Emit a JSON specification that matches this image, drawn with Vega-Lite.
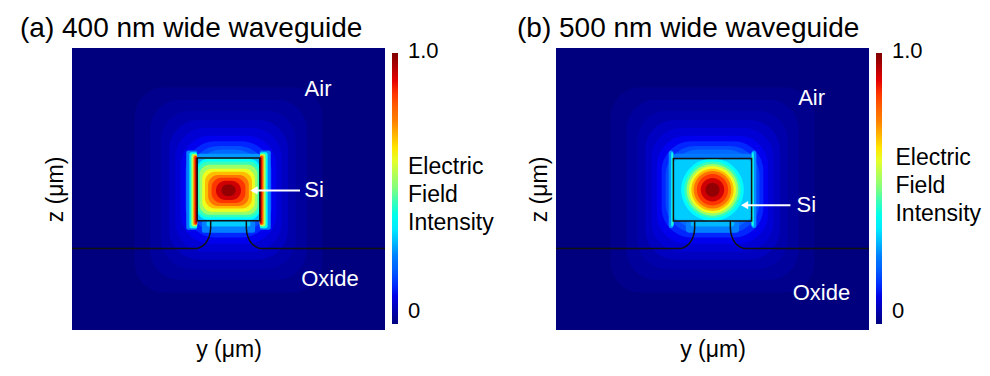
{
  "$schema": "https://vega.github.io/schema/vega-lite/v6.json",
  "padding": {"left": 20, "top": 15, "right": 5, "bottom": 5},
  "background": "white",
  "config": {
    "view": {"stroke": null},
    "font": "Liberation Sans",
    "axis": {"labels": false, "ticks": false, "domain": false, "grid": false, "titleFontSize": 23, "titleFont": "Liberation Sans", "titleFontWeight": "normal", "titleColor": "black"},
    "title": {"fontSize": 28, "font": "Liberation Sans", "fontWeight": "normal", "color": "black", "anchor": "start", "frame": "group", "baseline": "alphabetic", "offset": 5}
  },
  "datasets": {
    "a_bg": [{"y": -1, "ye": 1, "z": -0.52, "ze": 1.28, "v": 0}],
    "a_halo": [
      {"y": -0.6, "ye": 0.6, "z": -0.28, "ze": 1.03, "v": 0.015},
      {"y": -0.5, "ye": 0.5, "z": -0.2, "ze": 0.95, "v": 0.03},
      {"y": -0.43, "ye": 0.43, "z": -0.13, "ze": 0.88, "v": 0.045},
      {"y": -0.38, "ye": 0.38, "z": -0.07, "ze": 0.82, "v": 0.065},
      {"y": -0.34, "ye": 0.34, "z": -0.02, "ze": 0.77, "v": 0.085},
      {"y": -0.305, "ye": 0.305, "z": 0.03, "ze": 0.72, "v": 0.11},
      {"y": -0.275, "ye": 0.275, "z": 0.07, "ze": 0.685, "v": 0.14},
      {"y": -0.25, "ye": 0.25, "z": 0.1, "ze": 0.655, "v": 0.175},
      {"y": -0.228, "ye": 0.228, "z": 0.125, "ze": 0.632, "v": 0.215}
    ],
    "a_near": [
      {"y": -0.27, "ye": -0.2, "z": 0.12, "ze": 0.625, "v": 0.25},
      {"y": 0.2, "ye": 0.27, "z": 0.12, "ze": 0.625, "v": 0.25},
      {"y": -0.25, "ye": -0.2, "z": 0.13, "ze": 0.615, "v": 0.4},
      {"y": 0.2, "ye": 0.25, "z": 0.13, "ze": 0.615, "v": 0.4},
      {"y": -0.237, "ye": -0.2, "z": 0.14, "ze": 0.605, "v": 0.55},
      {"y": 0.2, "ye": 0.237, "z": 0.14, "ze": 0.605, "v": 0.55},
      {"y": -0.226, "ye": -0.2, "z": 0.148, "ze": 0.597, "v": 0.72},
      {"y": 0.2, "ye": 0.226, "z": 0.148, "ze": 0.597, "v": 0.72},
      {"y": -0.218, "ye": -0.2, "z": 0.153, "ze": 0.59, "v": 0.86},
      {"y": 0.2, "ye": 0.218, "z": 0.153, "ze": 0.59, "v": 0.86},
      {"y": -0.211, "ye": -0.2, "z": 0.16, "ze": 0.58, "v": 0.96},
      {"y": 0.2, "ye": 0.211, "z": 0.16, "ze": 0.58, "v": 0.96},
      {"y": -0.2, "ye": 0.2, "z": 0.578, "ze": 0.605, "v": 0.27},
      {"y": -0.17, "ye": 0.17, "z": 0.1, "ze": 0.178, "v": 0.25},
      {"y": -0.14, "ye": 0.14, "z": 0.14, "ze": 0.178, "v": 0.32},
      {"y": -0.2, "ye": 0.2, "z": 0.178, "ze": 0.578, "v": 0.3}
    ],
    "a_core": [
      {"y": -0.2, "ye": 0.2, "z": 0.185, "ze": 0.572, "v": 0.38},
      {"y": -0.195, "ye": 0.195, "z": 0.2, "ze": 0.555, "v": 0.45},
      {"y": -0.185, "ye": 0.185, "z": 0.215, "ze": 0.535, "v": 0.53},
      {"y": -0.168, "ye": 0.168, "z": 0.235, "ze": 0.51, "v": 0.61},
      {"y": -0.15, "ye": 0.15, "z": 0.255, "ze": 0.49, "v": 0.69},
      {"y": -0.13, "ye": 0.13, "z": 0.272, "ze": 0.47, "v": 0.77},
      {"y": -0.108, "ye": 0.108, "z": 0.29, "ze": 0.452, "v": 0.85},
      {"y": -0.08, "ye": 0.08, "z": 0.31, "ze": 0.432, "v": 0.92},
      {"y": -0.045, "ye": 0.045, "z": 0.335, "ze": 0.408, "v": 0.98}
    ],
    "lines": [
      {"s": "L", "o": 0, "y": -1, "z": 0},
      {"s": "L", "o": 1, "y": -0.2, "z": 0},
      {"s": "L", "o": 2, "y": -0.185, "z": 0.006},
      {"s": "L", "o": 3, "y": -0.165, "z": 0.017},
      {"s": "L", "o": 4, "y": -0.148, "z": 0.032},
      {"s": "L", "o": 5, "y": -0.135, "z": 0.05},
      {"s": "L", "o": 6, "y": -0.124, "z": 0.075},
      {"s": "L", "o": 7, "y": -0.117, "z": 0.1},
      {"s": "L", "o": 8, "y": -0.114, "z": 0.13},
      {"s": "L", "o": 9, "y": -0.114, "z": 0.178},
      {"s": "R", "o": 0, "y": 1, "z": 0},
      {"s": "R", "o": 1, "y": 0.2, "z": 0},
      {"s": "R", "o": 2, "y": 0.185, "z": 0.006},
      {"s": "R", "o": 3, "y": 0.165, "z": 0.017},
      {"s": "R", "o": 4, "y": 0.148, "z": 0.032},
      {"s": "R", "o": 5, "y": 0.135, "z": 0.05},
      {"s": "R", "o": 6, "y": 0.124, "z": 0.075},
      {"s": "R", "o": 7, "y": 0.117, "z": 0.1},
      {"s": "R", "o": 8, "y": 0.114, "z": 0.13},
      {"s": "R", "o": 9, "y": 0.114, "z": 0.178}
    ],
    "a_box": [{"y": -0.2, "ye": 0.2, "z": 0.178, "ze": 0.578}],
    "a_text": [
      {"t": "Air", "y": 0.572, "z": 1.02},
      {"t": "Si", "y": 0.547, "z": 0.371},
      {"t": "Oxide", "y": 0.648, "z": -0.192}
    ],
    "a_arrow": [{"y": 0.457, "ye": 0.17, "z": 0.371}],
    "a_head": [{"y": 0.163, "z": 0.371}],
    "a_cbt": [{"t": "Electric\nField\nIntensity", "y": 1.147, "z": 0.518}],
    "b_bg": [{"y": -1, "ye": 1, "z": -0.52, "ze": 1.28, "v": 0}],
    "b_halo": [
      {"y": -0.65, "ye": 0.65, "z": -0.28, "ze": 1.03, "v": 0.015},
      {"y": -0.55, "ye": 0.55, "z": -0.2, "ze": 0.95, "v": 0.03},
      {"y": -0.48, "ye": 0.48, "z": -0.13, "ze": 0.88, "v": 0.045},
      {"y": -0.43, "ye": 0.43, "z": -0.07, "ze": 0.82, "v": 0.065},
      {"y": -0.39, "ye": 0.39, "z": -0.02, "ze": 0.77, "v": 0.085},
      {"y": -0.355, "ye": 0.355, "z": 0.03, "ze": 0.72, "v": 0.11},
      {"y": -0.325, "ye": 0.325, "z": 0.07, "ze": 0.685, "v": 0.14},
      {"y": -0.3, "ye": 0.3, "z": 0.1, "ze": 0.655, "v": 0.175},
      {"y": -0.278, "ye": 0.278, "z": 0.125, "ze": 0.632, "v": 0.215}
    ],
    "b_near": [
      {"y": -0.28, "ye": -0.25, "z": 0.13, "ze": 0.625, "v": 0.26},
      {"y": 0.25, "ye": 0.28, "z": 0.13, "ze": 0.625, "v": 0.26},
      {"y": -0.265, "ye": -0.25, "z": 0.14, "ze": 0.615, "v": 0.35},
      {"y": 0.25, "ye": 0.265, "z": 0.14, "ze": 0.615, "v": 0.35},
      {"y": -0.257, "ye": -0.25, "z": 0.15, "ze": 0.6, "v": 0.45},
      {"y": 0.25, "ye": 0.257, "z": 0.15, "ze": 0.6, "v": 0.45},
      {"y": -0.25, "ye": 0.25, "z": 0.575, "ze": 0.605, "v": 0.24},
      {"y": -0.17, "ye": 0.17, "z": 0.1, "ze": 0.175, "v": 0.25},
      {"y": -0.14, "ye": 0.14, "z": 0.14, "ze": 0.175, "v": 0.3},
      {"y": -0.25, "ye": 0.25, "z": 0.175, "ze": 0.575, "v": 0.28},
      {"y": -0.245, "ye": 0.245, "z": 0.183, "ze": 0.567, "v": 0.32}
    ],
    "b_core": [
      {"y": -0.2, "ye": 0.2, "z": 0.175, "ze": 0.575, "v": 0.37},
      {"y": -0.18, "ye": 0.18, "z": 0.195, "ze": 0.555, "v": 0.45},
      {"y": -0.165, "ye": 0.165, "z": 0.21, "ze": 0.54, "v": 0.53},
      {"y": -0.15, "ye": 0.15, "z": 0.225, "ze": 0.525, "v": 0.61},
      {"y": -0.135, "ye": 0.135, "z": 0.24, "ze": 0.51, "v": 0.69},
      {"y": -0.12, "ye": 0.12, "z": 0.255, "ze": 0.495, "v": 0.77},
      {"y": -0.1, "ye": 0.1, "z": 0.275, "ze": 0.475, "v": 0.85},
      {"y": -0.075, "ye": 0.075, "z": 0.3, "ze": 0.45, "v": 0.92},
      {"y": -0.045, "ye": 0.045, "z": 0.33, "ze": 0.42, "v": 0.98}
    ],
    "b_box": [{"y": -0.25, "ye": 0.25, "z": 0.175, "ze": 0.575}],
    "b_text": [
      {"t": "Air", "y": 0.633, "z": 0.96},
      {"t": "Si", "y": 0.6, "z": 0.277},
      {"t": "Oxide", "y": 0.696, "z": -0.286}
    ],
    "b_arrow": [{"y": 0.498, "ye": 0.21, "z": 0.277}],
    "b_head": [{"y": 0.205, "z": 0.277}],
    "b_cbt": [{"t": "Electric\nField\nIntensity", "y": 1.169, "z": 0.577}]
  },
  "spacing": 23,
  "resolve": {"scale": {"color": "independent", "x": "independent", "y": "independent"}, "legend": {"color": "independent"}},
  "hconcat": [
    {
      "width": 313,
      "height": 282,
      "title": {"text": "(a) 400 nm wide waveguide", "dx": -52},
      "encoding": {
        "x": {"field": "y", "type": "quantitative", "scale": {"domain": [-1, 1], "nice": false, "zero": false}, "axis": {"title": "y (μm)", "titlePadding": 8}},
        "y": {"field": "z", "type": "quantitative", "scale": {"domain": [-0.52, 1.28], "nice": false, "zero": false}, "axis": {"title": "z (μm)", "titlePadding": 5}}
      },
      "layer": [
        {"data": {"name": "a_bg"}, "mark": {"type": "rect", "clip": true},
         "encoding": {"x2": {"field": "ye"}, "y2": {"field": "ze"},
          "color": {"field": "v", "type": "quantitative", "scale": {"domain": [0, 0.125, 0.25, 0.375, 0.5, 0.625, 0.75, 0.875, 1], "range": ["#00007F", "#0000FF", "#007FFF", "#00FFFF", "#7FFF7F", "#FFFF00", "#FF7F00", "#FF0000", "#7F0000"]},
           "legend": {"title": null, "orient": "right", "values": [0, 1], "labelExpr": "datum.value == 0 ? '0' : '1.0'", "gradientLength": 271, "gradientThickness": 6, "gradientStrokeWidth": 0, "labelFontSize": 22, "labelFont": "Liberation Sans", "labelColor": "black", "labelOffset": 10, "offset": 2, "padding": 5, "encode": {"labels": {"update": {"baseline": {"value": "alphabetic"}, "dy": {"signal": "datum.value > 0.5 ? 5 : -6"}}}}}}}},
        {"data": {"name": "a_halo"}, "mark": {"type": "rect", "clip": true, "cornerRadius": 30},
         "encoding": {"x2": {"field": "ye"}, "y2": {"field": "ze"}, "color": {"field": "v", "type": "quantitative"}}},
        {"data": {"name": "a_near"}, "mark": {"type": "rect", "clip": true, "cornerRadius": 2},
         "encoding": {"x2": {"field": "ye"}, "y2": {"field": "ze"}, "color": {"field": "v", "type": "quantitative"}}},
        {"data": {"name": "a_core"}, "mark": {"type": "rect", "clip": true, "cornerRadius": 10},
         "encoding": {"x2": {"field": "ye"}, "y2": {"field": "ze"}, "color": {"field": "v", "type": "quantitative"}}},
        {"data": {"name": "lines"}, "mark": {"type": "line", "color": "#111111", "strokeWidth": 1.5, "clip": true},
         "encoding": {"detail": {"field": "s", "type": "nominal"}, "order": {"field": "o", "type": "quantitative"}}},
        {"data": {"name": "a_box"}, "mark": {"type": "rect", "filled": false, "stroke": "#111111", "strokeWidth": 1.5},
         "encoding": {"x2": {"field": "ye"}, "y2": {"field": "ze"}}},
        {"data": {"name": "a_text"}, "mark": {"type": "text", "color": "white", "fontSize": 22, "font": "Liberation Sans", "align": "center", "baseline": "middle"},
         "encoding": {"text": {"field": "t", "type": "nominal"}}},
        {"data": {"name": "a_arrow"}, "mark": {"type": "rule", "color": "white", "strokeWidth": 2},
         "encoding": {"x2": {"field": "ye"}}},
        {"data": {"name": "a_head"}, "mark": {"type": "point", "shape": "triangle-left", "filled": true, "color": "white", "opacity": 1, "size": 70}, "encoding": {}},
        {"data": {"name": "a_cbt"}, "mark": {"type": "text", "color": "black", "fontSize": 23, "font": "Liberation Sans", "align": "left", "baseline": "middle", "lineBreak": "\n", "lineHeight": 28, "clip": false},
         "encoding": {"text": {"field": "t", "type": "nominal"}}}
      ]
    },
    {
      "width": 313,
      "height": 282,
      "title": {"text": "(b) 500 nm wide waveguide", "dx": -39},
      "encoding": {
        "x": {"field": "y", "type": "quantitative", "scale": {"domain": [-1, 1], "nice": false, "zero": false}, "axis": {"title": "y (μm)", "titlePadding": 8}},
        "y": {"field": "z", "type": "quantitative", "scale": {"domain": [-0.52, 1.28], "nice": false, "zero": false}, "axis": {"title": "z (μm)", "titlePadding": 5}}
      },
      "layer": [
        {"data": {"name": "b_bg"}, "mark": {"type": "rect", "clip": true},
         "encoding": {"x2": {"field": "ye"}, "y2": {"field": "ze"},
          "color": {"field": "v", "type": "quantitative", "scale": {"domain": [0, 0.125, 0.25, 0.375, 0.5, 0.625, 0.75, 0.875, 1], "range": ["#00007F", "#0000FF", "#007FFF", "#00FFFF", "#7FFF7F", "#FFFF00", "#FF7F00", "#FF0000", "#7F0000"]},
           "legend": {"title": null, "orient": "right", "values": [0, 1], "labelExpr": "datum.value == 0 ? '0' : '1.0'", "gradientLength": 271, "gradientThickness": 6, "gradientStrokeWidth": 0, "labelFontSize": 22, "labelFont": "Liberation Sans", "labelColor": "black", "labelOffset": 10, "offset": 2, "padding": 5, "encode": {"labels": {"update": {"baseline": {"value": "alphabetic"}, "dy": {"signal": "datum.value > 0.5 ? 5 : -6"}}}}}}}},
        {"data": {"name": "b_halo"}, "mark": {"type": "rect", "clip": true, "cornerRadius": 30},
         "encoding": {"x2": {"field": "ye"}, "y2": {"field": "ze"}, "color": {"field": "v", "type": "quantitative"}}},
        {"data": {"name": "b_near"}, "mark": {"type": "rect", "clip": true, "cornerRadius": 3},
         "encoding": {"x2": {"field": "ye"}, "y2": {"field": "ze"}, "color": {"field": "v", "type": "quantitative"}}},
        {"data": {"name": "b_core"}, "mark": {"type": "rect", "clip": true, "cornerRadius": 200},
         "encoding": {"x2": {"field": "ye"}, "y2": {"field": "ze"}, "color": {"field": "v", "type": "quantitative"}}},
        {"data": {"name": "lines"}, "mark": {"type": "line", "color": "#111111", "strokeWidth": 1.5, "clip": true},
         "encoding": {"detail": {"field": "s", "type": "nominal"}, "order": {"field": "o", "type": "quantitative"}}},
        {"data": {"name": "b_box"}, "mark": {"type": "rect", "filled": false, "stroke": "#111111", "strokeWidth": 1.5},
         "encoding": {"x2": {"field": "ye"}, "y2": {"field": "ze"}}},
        {"data": {"name": "b_text"}, "mark": {"type": "text", "color": "white", "fontSize": 22, "font": "Liberation Sans", "align": "center", "baseline": "middle"},
         "encoding": {"text": {"field": "t", "type": "nominal"}}},
        {"data": {"name": "b_arrow"}, "mark": {"type": "rule", "color": "white", "strokeWidth": 2},
         "encoding": {"x2": {"field": "ye"}}},
        {"data": {"name": "b_head"}, "mark": {"type": "point", "shape": "triangle-left", "filled": true, "color": "white", "opacity": 1, "size": 70}, "encoding": {}},
        {"data": {"name": "b_cbt"}, "mark": {"type": "text", "color": "black", "fontSize": 23, "font": "Liberation Sans", "align": "left", "baseline": "middle", "lineBreak": "\n", "lineHeight": 28, "clip": false},
         "encoding": {"text": {"field": "t", "type": "nominal"}}}
      ]
    }
  ]
}
